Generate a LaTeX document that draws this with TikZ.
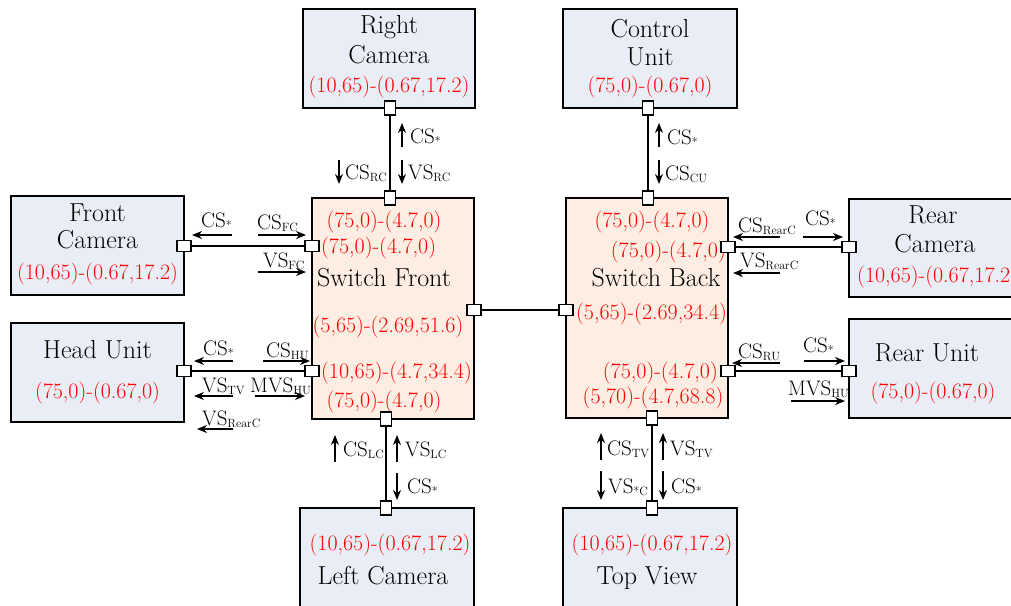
\documentclass[tikz,border=0pt]{standalone}
\usepackage{fontspec}
\setmainfont{Latin Modern Roman}
\usetikzlibrary{arrows.meta}
\definecolor{boxblue}{RGB}{233,238,246}
\definecolor{swfill}{RGB}{253,237,226}
\definecolor{redtxt}{RGB}{255,0,0}
\newcommand\sbs[1]{\raisebox{-0.12em}{\fontsize{12}{12}\selectfont #1}}
\tikzset{
  bbox/.style={draw, line width=1.5pt, fill=boxblue, inner sep=0pt},
  swbox/.style={draw, line width=1.5pt, fill=swfill, inner sep=0pt},
  hport/.style={draw, line width=1.1pt, fill=white, inner sep=0pt, minimum width=14, minimum height=11},
  vport/.style={draw, line width=1.1pt, fill=white, inner sep=0pt, minimum width=11, minimum height=14},
  link/.style={line width=1.5pt},
  arr/.style={line width=1.4pt, -{Stealth[length=10pt,width=8pt]}},
  btxt/.style={inner sep=0pt, font=\fontsize{26}{28}\selectfont},
  rtxt/.style={inner sep=0pt, text=redtxt, font=\fontsize{22}{24}\selectfont},
  lbl/.style={inner sep=0pt, anchor=base west, font=\fontsize{21}{22}\selectfont},
}
\begin{document}
\begin{tikzpicture}[x=1pt,y=-1pt]
\useasboundingbox (0,0) rectangle (1011,605);
% boxes
\node[bbox, minimum width=172, minimum height=99] (rc) at (389,58.5) {};
\node[bbox, minimum width=174, minimum height=99] (cu) at (650,58.5) {};
\node[bbox, minimum width=173, minimum height=99] (fc) at (97.5,245.5) {};
\node[bbox, minimum width=173, minimum height=99] (hu) at (97.5,372.5) {};
\node[swbox, minimum width=162, minimum height=221] (sf) at (393,308.5) {};
\node[swbox, minimum width=162, minimum height=220] (sb) at (647,308) {};
\node[bbox, minimum width=171, minimum height=98] (rearc) at (934.5,248) {};
\node[bbox, minimum width=171, minimum height=99] (ru) at (934.5,368.5) {};
\node[bbox, minimum width=174, minimum height=110] (lc) at (387,563) {};
\node[bbox, minimum width=174, minimum height=110] (tv) at (650,563) {};
% texts in boxes
\node[btxt, anchor=base] (t1) at (389,33) {Right};
\node[btxt, anchor=base] (t2) at (389,63) {Camera};
\node[rtxt, anchor=base] (t3) at (389,92) {(10,65)-(0.67,17.2)};
\node[btxt, anchor=base] (t4) at (650,37) {Control};
\node[btxt, anchor=base] (t5) at (650,65) {Unit};
\node[rtxt, anchor=base] (t6) at (650,92) {(75,0)-(0.67,0)};
\node[btxt, anchor=base] (t7) at (97.5,221) {Front};
\node[btxt, anchor=base] (t8) at (97.5,248) {Camera};
\node[rtxt, anchor=base] (t9) at (97.5,279) {(10,65)-(0.67,17.2)};
\node[btxt, anchor=base] (t10) at (97.5,358) {Head Unit};
\node[rtxt, anchor=base] (t11) at (97.5,398) {(75,0)-(0.67,0)};
\node[rtxt, anchor=base] (s1) at (384,227) {(75,0)-(4.7,0)};
\node[rtxt, anchor=base west] (s2) at (321,253) {(75,0)-(4.7,0)};
\node[btxt, anchor=base] (s3) at (384,286) {Switch Front};
\node[rtxt, anchor=base] (s4) at (388,332) {(5,65)-(2.69,51.6)};
\node[rtxt, anchor=base west] (s5) at (321,378) {(10,65)-(4.7,34.4)};
\node[rtxt, anchor=base] (s6) at (384,407) {(75,0)-(4.7,0)};
\node[rtxt, anchor=base] (b1) at (652,227) {(75,0)-(4.7,0)};
\node[rtxt, anchor=base east] (b2) at (726,257) {(75,0)-(4.7,0)};
\node[btxt, anchor=base] (b3) at (656,286) {Switch Back};
\node[rtxt, anchor=base west] (b4) at (576,319) {(5,65)-(2.69,34.4)};
\node[rtxt, anchor=base east] (b5) at (718,378) {(75,0)-(4.7,0)};
\node[rtxt, anchor=base] (b6) at (653,403) {(5,70)-(4.7,68.8)};
\node[btxt, anchor=base] (r1) at (933,223) {Rear};
\node[btxt, anchor=base] (r2) at (935,252) {Camera};
\node[rtxt, anchor=base west] (r3) at (857,282) {(10,65)-(0.67,17.2)};
\node[btxt, anchor=base] (r4) at (927,361) {Rear Unit};
\node[rtxt, anchor=base] (r5) at (933,398) {(75,0)-(0.67,0)};
\node[rtxt, anchor=base] (l1) at (390,550) {(10,65)-(0.67,17.2)};
\node[btxt, anchor=base] (l2) at (383,584) {Left Camera};
\node[rtxt, anchor=base] (v1) at (652,550) {(10,65)-(0.67,17.2)};
\node[btxt, anchor=base] (v2) at (647,584) {Top View};
% ports
\node[vport] (rcP) at (390,108) {};
\node[vport] (sfT) at (390,198) {};
\node[vport] (cuP) at (648,108) {};
\node[vport] (sbT) at (648,198) {};
\node[hport] (fcP) at (184,246) {};
\node[hport] (sfL1) at (312,246) {};
\node[hport] (huP) at (184,371) {};
\node[hport] (sfL2) at (312,371) {};
\node[hport] (sfR) at (474,310) {};
\node[hport] (sbL) at (566,310) {};
\node[vport] (sfB) at (386,419) {};
\node[vport] (lcP) at (386,508) {};
\node[vport] (sbB) at (652,418) {};
\node[vport] (tvP) at (652,508) {};
\node[hport] (sbR1) at (728,247) {};
\node[hport] (rearcP) at (849,247) {};
\node[hport] (sbR2) at (728,371) {};
\node[hport] (ruP) at (849,371) {};
% links
\draw[link] (rcP) -- (sfT);
\draw[link] (cuP) -- (sbT);
\draw[link] (fcP) -- (sfL1);
\draw[link] (huP) -- (sfL2);
\draw[link] (sfR) -- (sbL);
\draw[link] (sfB) -- (lcP);
\draw[link] (sbB) -- (tvP);
\draw[link] (sbR1) -- (rearcP);
\draw[link] (sbR2) -- (ruP);
% front camera link labels
\draw[arr] (232,235) -- (192,235);
\node[lbl] (a1) at (201,227) {CS\sbs{*}};
\draw[arr] (258,235) -- (306,235);
\node[lbl] (a2) at (257,229) {CS\sbs{FC}};
\draw[arr] (258,272) -- (306,272);
\node[lbl] (a3) at (263,267) {VS\sbs{FC}};
% head unit link labels
\draw[arr] (233,361) -- (194,361);
\node[lbl] (a4) at (203,355) {CS\sbs{*}};
\draw[arr] (263,361) -- (310,361);
\node[lbl] (a5) at (266,357) {CS\sbs{HU}};
\draw[arr] (233,396) -- (194,396);
\node[lbl] (a6) at (202,392) {VS\sbs{TV}};
\draw[arr] (255,396) -- (305,396);
\node[lbl] (a7) at (250,392) {MVS\sbs{HU}};
\draw[arr] (233,429) -- (197,429);
\node[lbl] (a8) at (202,425) {VS\sbs{RearC}};
% right camera link labels
\draw[arr] (402,147) -- (402,123);
\node[lbl] (a9) at (410,143) {CS\sbs{*}};
\draw[arr] (339,160) -- (339,184);
\node[lbl] (a10) at (345,179) {CS\sbs{RC}};
\draw[arr] (402,160) -- (402,184);
\node[lbl] (a11) at (408,179) {VS\sbs{RC}};
% control unit link labels
\draw[arr] (659,147) -- (659,123);
\node[lbl] (a12) at (667,144) {CS\sbs{*}};
\draw[arr] (659,160) -- (659,184);
\node[lbl] (a13) at (665,180) {CS\sbs{CU}};
% left camera link labels
\draw[arr] (335,462) -- (335,435);
\node[lbl] (a14) at (343,456) {CS\sbs{LC}};
\draw[arr] (397,462) -- (397,435);
\node[lbl] (a15) at (405,456) {VS\sbs{LC}};
\draw[arr] (397,473) -- (397,500);
\node[lbl] (a16) at (407,493) {CS\sbs{*}};
% top view link labels
\draw[arr] (601,460) -- (601,433);
\node[lbl] (a17) at (607,455) {CS\sbs{TV}};
\draw[arr] (663,460) -- (663,433);
\node[lbl] (a18) at (670,455) {VS\sbs{TV}};
\draw[arr] (601,471) -- (601,500);
\node[lbl] (a19) at (608,493) {VS\sbs{*C}};
\draw[arr] (663,471) -- (663,500);
\node[lbl] (a20) at (671,493) {CS\sbs{*}};
% rear camera link labels
\draw[arr] (780,237) -- (733,237);
\node[lbl] (a21) at (738,232) {CS\sbs{RearC}};
\draw[arr] (803,237) -- (843,237);
\node[lbl] (a22) at (805,225) {CS\sbs{*}};
\draw[arr] (780,273) -- (733,273);
\node[lbl] (a23) at (740,267) {VS\sbs{RearC}};
% rear unit link labels
\draw[arr] (780,363) -- (732,363);
\node[lbl] (a24) at (738,358) {CS\sbs{RU}};
\draw[arr] (804,361) -- (845,361);
\node[lbl] (a25) at (803,352) {CS\sbs{*}};
\draw[arr] (791,401) -- (845,401);
\node[lbl] (a26) at (788,395) {MVS\sbs{HU}};
\end{tikzpicture}
\end{document}
